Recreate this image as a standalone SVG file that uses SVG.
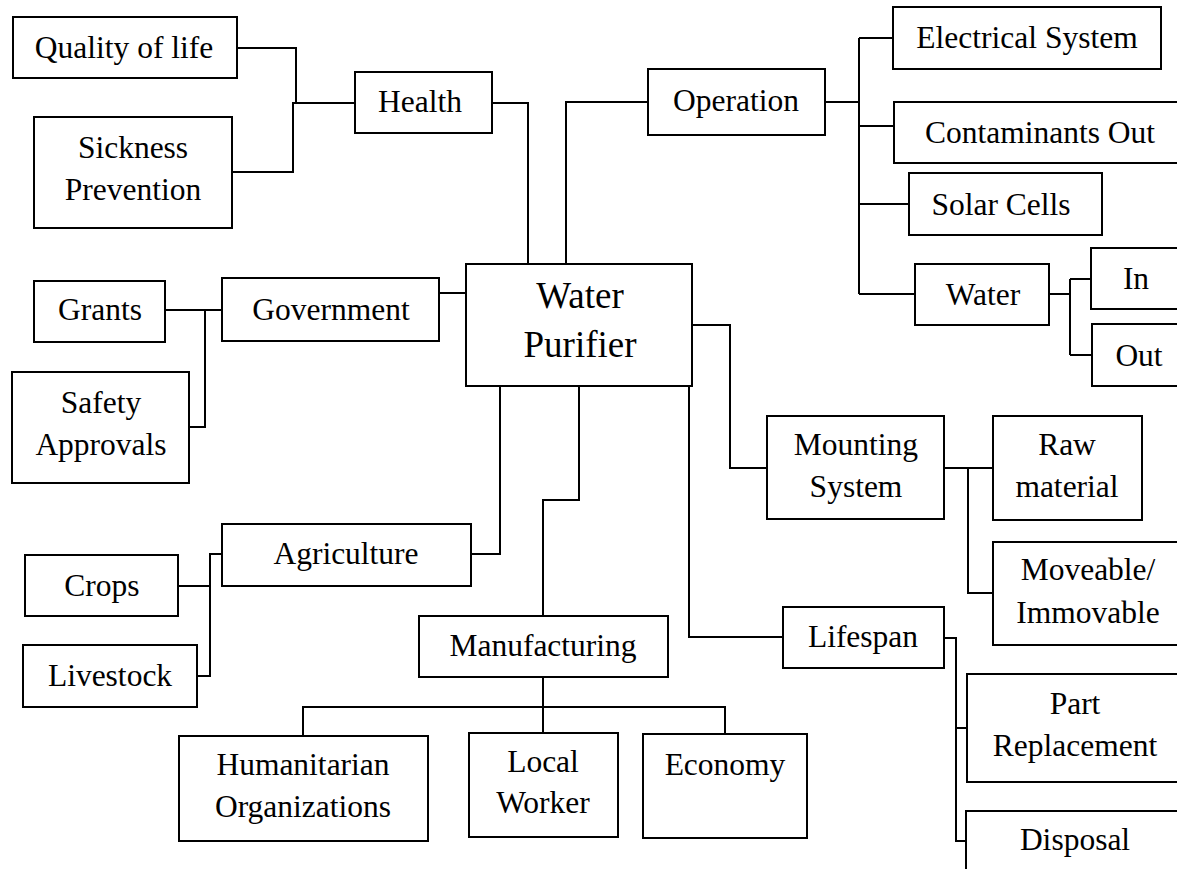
<svg xmlns="http://www.w3.org/2000/svg" width="1177" height="869" viewBox="0 0 1177 869">
<style>
.box{fill:#fff;stroke:#000;stroke-width:2}
.t{font-family:"Liberation Serif","Times New Roman",serif;font-size:31.5px;fill:#000;text-anchor:middle}
.big{font-size:37px}
.c{fill:none;stroke:#000;stroke-width:2}
</style>
<rect width="1177" height="869" fill="#fff"/>
<g id="connectors">
<path class="c" d="M237,48 H296 V103"/>
<path class="c" d="M232,172 H293 V103 H355"/>
<path class="c" d="M492,103 H528 V264"/>
<path class="c" d="M566,264 V102 H648"/>
<path class="c" d="M825,102 H859"/>
<path class="c" d="M859,38 V294"/>
<path class="c" d="M859,38 H893 M859,126 H894 M859,204 H909 M859,294 H915"/>
<path class="c" d="M1049,294 H1070"/>
<path class="c" d="M1070,279 V355 M1070,279 H1091 M1070,355 H1092"/>
<path class="c" d="M165,310 H222"/>
<path class="c" d="M205,310 V427 H189"/>
<path class="c" d="M439,293 H466"/>
<path class="c" d="M500,386 V554 H471"/>
<path class="c" d="M222,554 H210 V676 H197 M178,586 H210"/>
<path class="c" d="M579,386 V500 H543 V616"/>
<path class="c" d="M543,677 V733 M303,736 V707 H725 V734"/>
<path class="c" d="M689,386 V637 H783"/>
<path class="c" d="M944,638 H956 V841 H966 M956,728 H967"/>
<path class="c" d="M692,325 H730 V468 H767"/>
<path class="c" d="M944,468 H993 M968,468 V593 H993"/>
</g>
<g id="quality"><rect class="box" x="13" y="17" width="224" height="61"/><text class="t" x="124" y="58">Quality of life</text></g>
<g id="sickness"><rect class="box" x="34" y="117" width="198" height="111"/><text class="t" x="133" y="158">Sickness</text><text class="t" x="133" y="200">Prevention</text></g>
<g id="health"><rect class="box" x="355" y="72" width="137" height="61"/><text class="t" x="420" y="112">Health</text></g>
<g id="operation"><rect class="box" x="648" y="69" width="177" height="66"/><text class="t" x="736" y="111">Operation</text></g>
<g id="electrical"><rect class="box" x="893" y="7" width="268" height="62"/><text class="t" x="1027" y="48">Electrical System</text></g>
<g id="contaminants"><rect class="box" x="894" y="102" width="290" height="61"/><text class="t" x="1040" y="143">Contaminants Out</text></g>
<g id="solar"><rect class="box" x="909" y="173" width="193" height="62"/><text class="t" x="1001" y="215">Solar Cells</text></g>
<g id="water"><rect class="box" x="915" y="264" width="134" height="61"/><text class="t" x="983" y="305">Water</text></g>
<g id="in"><rect class="box" x="1091" y="248" width="93" height="61"/><text class="t" x="1136" y="289">In</text></g>
<g id="out"><rect class="box" x="1092" y="324" width="92" height="62"/><text class="t" x="1139" y="366">Out</text></g>
<g id="grants"><rect class="box" x="34" y="281" width="131" height="61"/><text class="t" x="100" y="320">Grants</text></g>
<g id="government"><rect class="box" x="222" y="278" width="217" height="63"/><text class="t" x="331" y="320">Government</text></g>
<g id="safety"><rect class="box" x="12" y="372" width="177" height="111"/><text class="t" x="101" y="413">Safety</text><text class="t" x="101" y="455">Approvals</text></g>
<g id="purifier"><rect class="box" x="466" y="264" width="226" height="122"/><text class="t big" x="580" y="308">Water</text><text class="t big" x="580" y="357">Purifier</text></g>
<g id="mounting"><rect class="box" x="767" y="416" width="177" height="103"/><text class="t" x="856" y="455">Mounting</text><text class="t" x="856" y="497">System</text></g>
<g id="raw"><rect class="box" x="993" y="416" width="149" height="104"/><text class="t" x="1067" y="455">Raw</text><text class="t" x="1067" y="497">material</text></g>
<g id="moveable"><rect class="box" x="993" y="542" width="191" height="103"/><text class="t" x="1088" y="580">Moveable/</text><text class="t" x="1088" y="623">Immovable</text></g>
<g id="agriculture"><rect class="box" x="222" y="524" width="249" height="62"/><text class="t" x="346" y="564">Agriculture</text></g>
<g id="crops"><rect class="box" x="25" y="555" width="153" height="61"/><text class="t" x="102" y="596">Crops</text></g>
<g id="livestock"><rect class="box" x="23" y="645" width="174" height="62"/><text class="t" x="110" y="686">Livestock</text></g>
<g id="manufacturing"><rect class="box" x="419" y="616" width="249" height="61"/><text class="t" x="543" y="656">Manufacturing</text></g>
<g id="humanitarian"><rect class="box" x="179" y="736" width="249" height="105"/><text class="t" x="303" y="775">Humanitarian</text><text class="t" x="303" y="817">Organizations</text></g>
<g id="local"><rect class="box" x="469" y="733" width="149" height="104"/><text class="t" x="543" y="772">Local</text><text class="t" x="543" y="813">Worker</text></g>
<g id="economy"><rect class="box" x="643" y="734" width="164" height="104"/><text class="t" x="725" y="775">Economy</text></g>
<g id="lifespan"><rect class="box" x="783" y="607" width="161" height="61"/><text class="t" x="863" y="647">Lifespan</text></g>
<g id="part"><rect class="box" x="967" y="674" width="216" height="108"/><text class="t" x="1075" y="714">Part</text><text class="t" x="1075" y="756">Replacement</text></g>
<g id="disposal"><rect class="box" x="966" y="811" width="217" height="70"/><text class="t" x="1075" y="850">Disposal</text></g>
</svg>
